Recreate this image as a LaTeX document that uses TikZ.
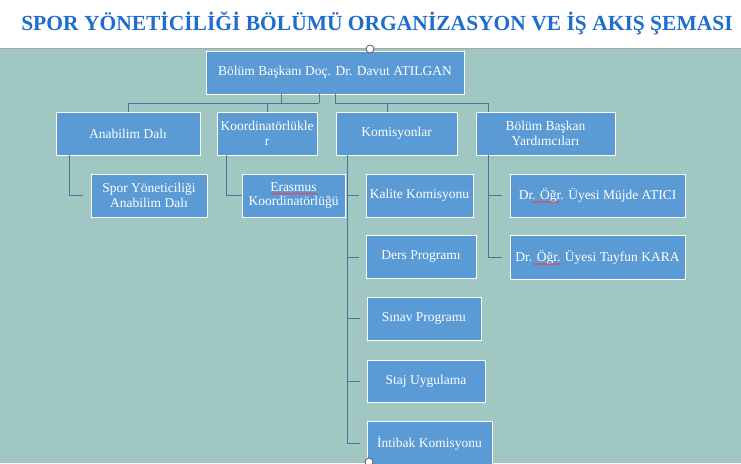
\documentclass[tikz,border=0pt]{standalone}
\usepackage{fontspec}
\setmainfont{Liberation Serif}
\usetikzlibrary{decorations.pathmorphing}
\definecolor{sheetteal}{RGB}{161,199,195}
\definecolor{boxblue}{RGB}{91,155,213}
\definecolor{linkblue}{RGB}{70,118,160}
\definecolor{titleblue}{RGB}{31,110,205}
\tikzset{
  orgbox/.style={draw=white, line width=0.9pt, fill=boxblue, text=white, align=center,
    inner sep=1pt, font=\fontsize{13.5}{14.5}\selectfont, minimum height=43pt},
  link/.style={draw=linkblue, line width=0.9pt},
  handle/.style={circle, draw=gray!70!black, fill=white, line width=0.8pt, inner sep=0pt, minimum size=8pt},
  spellmark/.style={draw=red!80, line width=0.5pt, decorate, decoration={snake, amplitude=0.7pt, segment length=2.5pt}},
}

\begin{document}
\begin{tikzpicture}[x=1pt, y=-1pt]
      \useasboundingbox (0,0) rectangle (741,463);
      \fill[white] (0,0) rectangle (741,48);
      \fill[sheetteal] (0,48) rectangle (741,463);
      \draw[gray!70, line width=0.8pt] (0,48) -- (741,48);

      \node[font=\bfseries\fontsize{21.5}{22}\selectfont, text=titleblue] (title) at (377,23)
        {SPOR YÖNETİCİLİĞİ BÖLÜMÜ ORGANİZASYON VE İŞ AKIŞ ŞEMASI};

      \node[orgbox, minimum width=258pt] (head) at (335,72.5) {Bölüm Başkanı Doç. Dr. Davut ATILGAN};

      \node[orgbox, minimum width=144pt] (anabilim) at (128,133.5) {Anabilim Dalı};
      \node[orgbox, minimum width=100pt] (koord) at (267,133.5) {Koordinatörlükle\\r};
      \node[orgbox, minimum width=121pt] (komis) at (396.5,133.5) {Komisyonlar};
      \node[orgbox, minimum width=139pt] (yard) at (545.5,133.5) {Bölüm Başkan\\Yardımcıları};

      \node[orgbox, minimum width=116pt] (spor) at (149,195.5) {Spor Yöneticiliği\\Anabilim Dalı};
      \node[orgbox, minimum width=103pt] (erasmus) at (293.5,195.5) {Erasmus\\Koordinatörlüğü};

      \node[orgbox, minimum width=107pt] (kalite) at (419.5,195.5) {Kalite Komisyonu};
      \node[orgbox, minimum width=110pt] (ders) at (421,257) {Ders Programı};
      \node[orgbox, minimum width=114pt] (sinav) at (424,318.5) {Sınav Programı};
      \node[orgbox, minimum width=118pt, minimum height=42pt] (staj) at (426,381) {Staj Uygulama};
      \node[orgbox, minimum width=125pt, minimum height=44pt] (intibak) at (429.5,443) {İntibak Komisyonu};

      \node[orgbox, minimum width=175pt] (mujde) at (597.5,195.5) {Dr. Öğr. Üyesi Müjde ATICI};
      \node[orgbox, minimum width=175pt, minimum height=44pt] (tayfun) at (597.5,257) {Dr. Öğr. Üyesi Tayfun KARA};

      \coordinate (busL) at (319,103);
      \coordinate (busM) at (281,103);
      \coordinate (busR) at (335,103);

      \draw[link] (head.south -| busM) -- (busM);
      \draw[link] (head.south -| busL) -- (busL);
      \draw[link] (anabilim.north) |- (busL);
      \draw[link] (koord.north) -- (koord.north |- busL);
      \draw[link] (head.south -| busR) -- (busR) -| ([xshift=12.5pt]yard.north west);
      \draw[link] ([xshift=-9.5pt]komis.north) -- ([xshift=-9.5pt]komis.north |- busR);

      \draw[link, shorten >=8pt] ([xshift=14pt]anabilim.south west) |- (spor.west);
      \draw[link] ([xshift=10pt]koord.south west) |- (erasmus.west);
      \foreach \sub in {kalite, ders, sinav, staj, intibak}
        \draw[link, shorten >=7pt] ([xshift=12pt]komis.south west) |- (\sub.west);
      \foreach \sub in {mujde, tayfun}
        \draw[link, shorten >=8pt] ([xshift=12.5pt]yard.south west) |- (\sub.west);

      \draw[spellmark] (271,193.5) -- (317,193.5);
      \draw[spellmark] (533,202) -- (561,202);
      \draw[spellmark] (533,264) -- (561,264);

      \node[handle] (topgrip) at (370,49) {};
      \node[handle] (bottomgrip) at (369,462) {};
    \end{tikzpicture}
\end{document}
